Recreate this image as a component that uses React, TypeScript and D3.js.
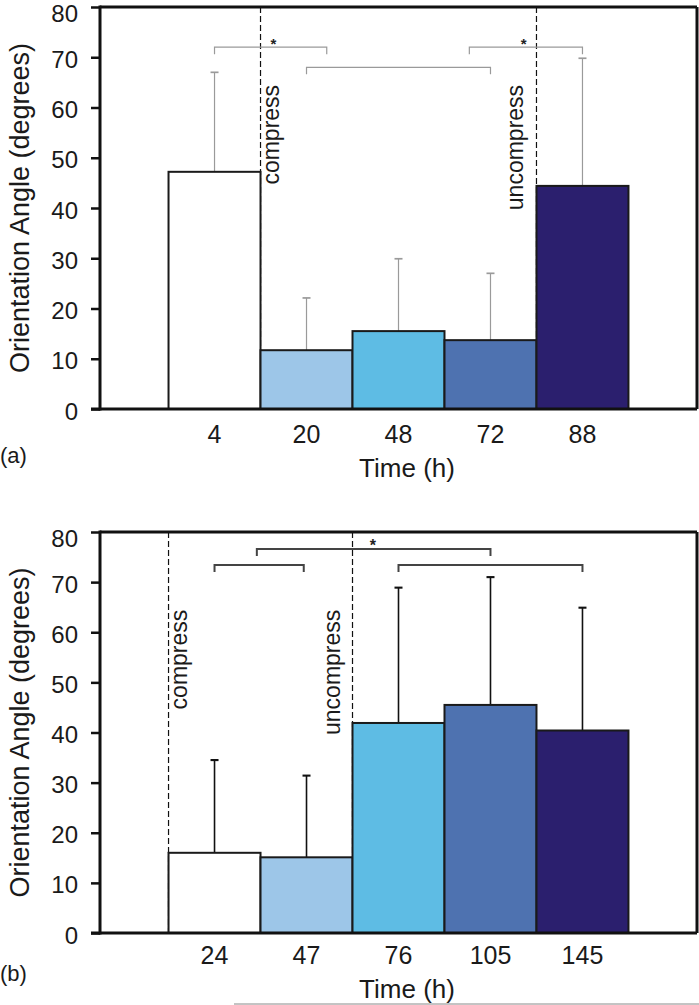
import React, { useEffect, useRef } from "react";
import * as d3 from "d3";

// panel (a)
const timesA = ["4", "20", "48", "72", "88"];
const meanA = [47.2, 11.7, 15.5, 13.7, 44.4];
const sdA = [19.8, 10.4, 14.4, 13.3, 25.4];
const colorsA = ["#ffffff", "#9dc6e8", "#5ebce4", "#4e72b0", "#2b1f6e"];

// panel (b)
const timesB = ["24", "47", "76", "105", "145"];
const meanB = [16.0, 15.1, 41.9, 45.5, 40.4];
const sdB = [18.5, 16.3, 27.0, 25.5, 24.5];
const colorsB = ["#ffffff", "#9dc6e8", "#5ebce4", "#4e72b0", "#2b1f6e"];

const yTicks = [0, 10, 20, 30, 40, 50, 60, 70, 80];

// brackets in bar units (0 = left edge of first bar), y in degrees
const bracketsA = [
  { from: 0.5, to: 1.72, y: 72, star: 1.14 },
  { from: 1.5, to: 3.5, y: 68, star: null },
  { from: 3.27, to: 4.5, y: 72, star: 3.86 },
];
const bracketsB = [
  { from: 0.5, to: 1.47, y: 73.4, star: null },
  { from: 0.96, to: 3.5, y: 76.6, star: 2.22 },
  { from: 2.5, to: 4.5, y: 73.4, star: null },
];

const markersA = [
  { at: 1, label: "compress" },
  { at: 4, label: "uncompress" },
];
const markersB = [
  { at: 0, label: "compress" },
  { at: 2, label: "uncompress" },
];

const FONT = "'Liberation Sans', Arial, Helvetica, sans-serif";

function drawPanel(svg, o) {
  const left = 100, right = 697;
  const g = svg.append("g");

  const x = d3.scaleBand().domain(o.times).range([left, right]).paddingInner(0).paddingOuter(0.745);
  const y = d3.scaleLinear().domain([0, 80]).range([o.bottom, o.top]);
  const bw = x.bandwidth();
  const x0 = x(o.times[0]);
  const ux = (u) => x0 + u * bw;

  // dashed phase lines + labels
  o.markers.forEach((m) => {
    g.append("line")
      .attr("x1", ux(m.at)).attr("x2", ux(m.at))
      .attr("y1", o.top).attr("y2", o.bottom)
      .attr("stroke", "#111").attr("stroke-width", 1.2)
      .attr("stroke-dasharray", "6,3");
    const isComp = m.label === "compress";
    const tx = ux(m.at) + (isComp ? 18 : -13);
    g.append("text")
      .attr("transform", `translate(${tx},${y(64.5)}) rotate(-90)`)
      .attr("text-anchor", "end")
      .style("font-family", FONT)
      .style("font-size", "23px")
      .attr("fill", "#1a1a1a")
      .text(m.label);
  });

  // error bars (upper only)
  o.times.forEach((t, i) => {
    const cx = x(t) + bw / 2;
    g.append("line")
      .attr("x1", cx).attr("x2", cx)
      .attr("y1", y(o.means[i])).attr("y2", y(o.means[i] + o.sds[i]))
      .attr("stroke", o.errColor).attr("stroke-width", o.errWidth);
    g.append("line")
      .attr("x1", cx - 4).attr("x2", cx + 4)
      .attr("y1", y(o.means[i] + o.sds[i])).attr("y2", y(o.means[i] + o.sds[i]))
      .attr("stroke", o.errColor).attr("stroke-width", o.errWidth + 0.5);
  });

  // bars
  g.selectAll("rect.bar")
    .data(o.times)
    .enter()
    .append("rect")
    .attr("class", "bar")
    .attr("x", (d) => x(d))
    .attr("y", (d, i) => y(o.means[i]))
    .attr("width", bw)
    .attr("height", (d, i) => y(0) - y(o.means[i]))
    .attr("fill", (d, i) => o.colors[i])
    .attr("stroke", "#1a1a1a")
    .attr("stroke-width", 2);

  // significance brackets
  o.brackets.forEach((b) => {
    const by = y(b.y);
    const path = d3.path();
    path.moveTo(ux(b.from), by + 7);
    path.lineTo(ux(b.from), by);
    path.lineTo(ux(b.to), by);
    path.lineTo(ux(b.to), by + 7);
    g.append("path")
      .attr("d", path.toString())
      .attr("fill", "none")
      .attr("stroke", o.brColor)
      .attr("stroke-width", o.brWidth);
    if (b.star !== null) {
      g.append("text")
        .attr("x", ux(b.star))
        .attr("y", by + 2)
        .attr("text-anchor", "middle")
        .style("font-family", FONT)
        .style("font-size", o.starSize)
        .style("font-weight", "bold")
        .attr("fill", "#222")
        .text("*");
    }
  });

  // frame
  const frame = [
    [left, o.top, right, o.top],
    [right, o.top, right, o.bottom],
    [91, o.bottom, right, o.bottom],
    [left, o.top - 1.5, left, o.bottom + 1.5],
  ];
  frame.forEach((f) => {
    g.append("line")
      .attr("x1", f[0]).attr("y1", f[1]).attr("x2", f[2]).attr("y2", f[3])
      .attr("stroke", "#111").attr("stroke-width", 3);
  });

  // y axis
  const yAxis = g.append("g")
    .attr("transform", `translate(${left},0)`)
    .call(d3.axisLeft(y).tickValues(yTicks).tickSize(9).tickPadding(13).tickSizeOuter(0));
  yAxis.select(".domain").remove();
  yAxis.selectAll(".tick line").attr("stroke", "#111").attr("stroke-width", 2.5);
  yAxis.selectAll(".tick text")
    .attr("dy", (d) => (d === 80 ? "0.6em" : "0.42em"))
    .style("font-family", FONT)
    .style("font-size", "24px")
    .attr("fill", "#1a1a1a");

  // x labels
  o.times.forEach((t) => {
    g.append("text")
      .attr("x", x(t) + bw / 2)
      .attr("y", o.bottom + o.tickOff)
      .attr("text-anchor", "middle")
      .style("font-family", FONT)
      .style("font-size", "25px")
      .attr("fill", "#1a1a1a")
      .text(t);
  });

  g.append("text")
    .attr("x", 407)
    .attr("y", o.bottom + o.titleOff)
    .attr("text-anchor", "middle")
    .style("font-family", FONT)
    .style("font-size", "26px")
    .attr("fill", "#1a1a1a")
    .text("Time (h)");

  g.append("text")
    .attr("x", 0)
    .attr("y", o.bottom + o.tagOff)
    .style("font-family", FONT)
    .style("font-size", "22px")
    .attr("fill", "#1a1a1a")
    .text(o.tag);

  g.append("text")
    .attr("transform", `translate(29,${(o.top + o.bottom) / 2}) rotate(-90)`)
    .attr("text-anchor", "middle")
    .style("font-family", FONT)
    .style("font-size", "27px")
    .attr("fill", "#1a1a1a")
    .text("Orientation Angle (degrees)");
}

const App = () => {
  const svgRef = useRef(null);

  useEffect(() => {
    const svg = d3.select(svgRef.current);
    svg.selectAll("*").remove();

    svg.append("rect").attr("width", 699).attr("height", 1005).attr("fill", "#fff");

    drawPanel(svg, {
      top: 7, bottom: 409,
      times: timesA, means: meanA, sds: sdA, colors: colorsA,
      brackets: bracketsA, markers: markersA,
      errColor: "#9a9a9a", errWidth: 1.2,
      brColor: "#9a9a9a", brWidth: 1.2, starSize: "15px",
      tickOff: 34, titleOff: 68, tagOff: 54, tag: "(a)",
    });

    drawPanel(svg, {
      top: 532, bottom: 933,
      times: timesB, means: meanB, sds: sdB, colors: colorsB,
      brackets: bracketsB, markers: markersB,
      errColor: "#111", errWidth: 1.6,
      brColor: "#444", brWidth: 2, starSize: "16px",
      tickOff: 31, titleOff: 65, tagOff: 48, tag: "(b)",
    });

    // stray rule at the very bottom of the figure
    svg.append("line")
      .attr("x1", 234).attr("x2", 699)
      .attr("y1", 1004).attr("y2", 1004)
      .attr("stroke", "#888").attr("stroke-width", 1);
  }, []);

  return (
    <svg
      ref={svgRef}
      width="699"
      height="1005"
      style={{ position: "absolute", left: 0, top: 0, display: "block" }}
    ></svg>
  );
};

export default App;
